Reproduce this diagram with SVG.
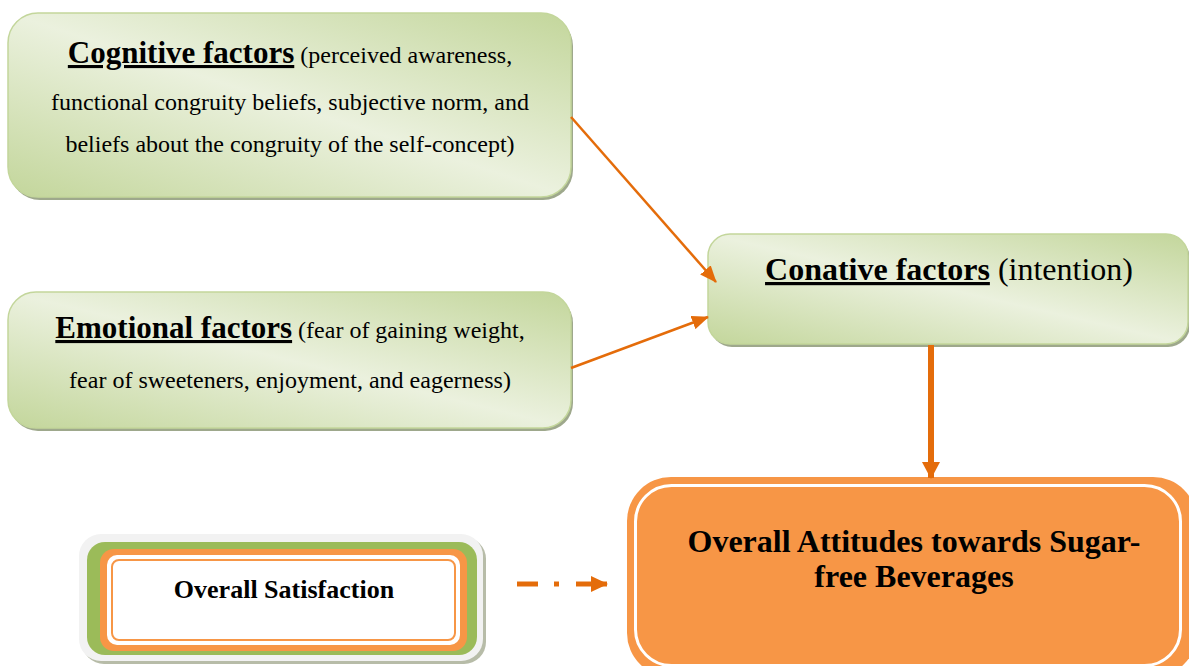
<svg xmlns="http://www.w3.org/2000/svg" width="1189" height="666" viewBox="0 0 1189 666">
<style>
  .t { font-family: "Liberation Serif", "Times New Roman", Times, "DejaVu Serif", serif; fill: #000; }
  .b { font-weight: bold; }
  .u { text-decoration: underline; }
  .gbox { fill: url(#grn); stroke: #c3d69b; stroke-width: 1.5; }
  .shadow { fill: #9ea88c; }
  .arr { stroke: #e46c0a; stroke-width: 2.5; fill: none; }
</style>
<defs>
  <linearGradient id="grn" x1="1" y1="0" x2="0" y2="1">
    <stop offset="0" stop-color="#c3d69b"/>
    <stop offset="0.5" stop-color="#ebf1de"/>
    <stop offset="1" stop-color="#c3d69b"/>
  </linearGradient>
  <marker id="ah" markerUnits="userSpaceOnUse" markerWidth="18" markerHeight="14" refX="16" refY="7" orient="auto">
    <path d="M0,0 L17,7 L0,14 Z" fill="#e46c0a"/>
  </marker>
  <marker id="ahb" markerUnits="userSpaceOnUse" markerWidth="18" markerHeight="20" refX="16" refY="10" orient="auto">
    <path d="M0,1 L17,10 L0,19 Z" fill="#e46c0a"/>
  </marker>
  <marker id="ahd" markerUnits="userSpaceOnUse" markerWidth="18" markerHeight="16" refX="16" refY="8" orient="auto">
    <path d="M0,0 L17,8 L0,16 Z" fill="#e46c0a"/>
  </marker>
</defs>
<rect width="1189" height="666" fill="#fff"/>

<g id="cognitive">
  <rect class="shadow" x="10" y="16" width="563" height="184" rx="30"/>
  <rect class="gbox" x="8" y="13" width="563" height="184" rx="30"/>
  <text class="t" x="290" y="63" text-anchor="middle"><tspan class="b u" font-size="31">Cognitive factors</tspan><tspan font-size="24"> (perceived awareness,</tspan></text>
  <text class="t" x="290" y="110" text-anchor="middle" font-size="24">functional congruity beliefs, subjective norm, and</text>
  <text class="t" x="290" y="152" text-anchor="middle" font-size="24">beliefs about the congruity of the self-concept)</text>
</g>

<g id="emotional">
  <rect class="shadow" x="10" y="295" width="563" height="136" rx="28"/>
  <rect class="gbox" x="8" y="292" width="563" height="136" rx="28"/>
  <text class="t" x="290" y="338" text-anchor="middle"><tspan class="b u" font-size="31">Emotional factors</tspan><tspan font-size="24"> (fear of gaining weight,</tspan></text>
  <text class="t" x="290" y="388" text-anchor="middle" font-size="24">fear of sweeteners, enjoyment, and eagerness)</text>
</g>

<g id="conative">
  <rect class="shadow" x="710" y="237" width="480" height="110" rx="22"/>
  <rect class="gbox" x="708" y="234" width="480" height="110" rx="22"/>
  <text class="t" x="949" y="280" text-anchor="middle" font-size="32"><tspan class="b u">Conative factors</tspan><tspan> (intention)</tspan></text>
</g>

<g id="attitudes">
  <rect x="627" y="477" width="570" height="200" rx="44" fill="#f79646"/>
  <rect x="635.5" y="485.5" width="545" height="180" rx="36" fill="#f79646" stroke="#fff" stroke-width="3"/>
  <text class="t b" x="914" y="552" text-anchor="middle" font-size="32">Overall Attitudes towards Sugar-</text>
  <text class="t b" x="914" y="587" text-anchor="middle" font-size="32">free Beverages</text>
</g>

<g id="satisfaction">
  <rect x="82" y="537" width="404" height="127" rx="22" fill="#b7bca8"/>
  <rect x="79" y="534" width="404" height="127" rx="22" fill="#f2f2f2"/>
  <rect x="87" y="542" width="390" height="113" rx="18" fill="#9bbb59"/>
  <rect x="100" y="549" width="367" height="102" rx="14" fill="#f79646"/>
  <rect x="107" y="555" width="353" height="90" rx="10" fill="#fff"/>
  <rect x="112" y="560" width="343" height="80" rx="7" fill="#fff" stroke="#f79646" stroke-width="2"/>
  <text class="t b" x="284" y="598" text-anchor="middle" font-size="26">Overall Satisfaction</text>
</g>

<g id="connectors">
  <line class="arr" x1="571" y1="117" x2="716" y2="282" marker-end="url(#ah)"/>
  <line class="arr" x1="571" y1="368" x2="708" y2="317" marker-end="url(#ah)"/>
  <line x1="931" y1="345" x2="931" y2="478" stroke="#e46c0a" stroke-width="6" marker-end="url(#ahb)"/>
  <line x1="517" y1="584" x2="538" y2="584" stroke="#e46c0a" stroke-width="5"/>
  <line x1="554" y1="584" x2="559" y2="584" stroke="#e46c0a" stroke-width="5"/>
  <line x1="576" y1="584" x2="607" y2="584" stroke="#e46c0a" stroke-width="5" marker-end="url(#ahd)"/>
</g>
</svg>
